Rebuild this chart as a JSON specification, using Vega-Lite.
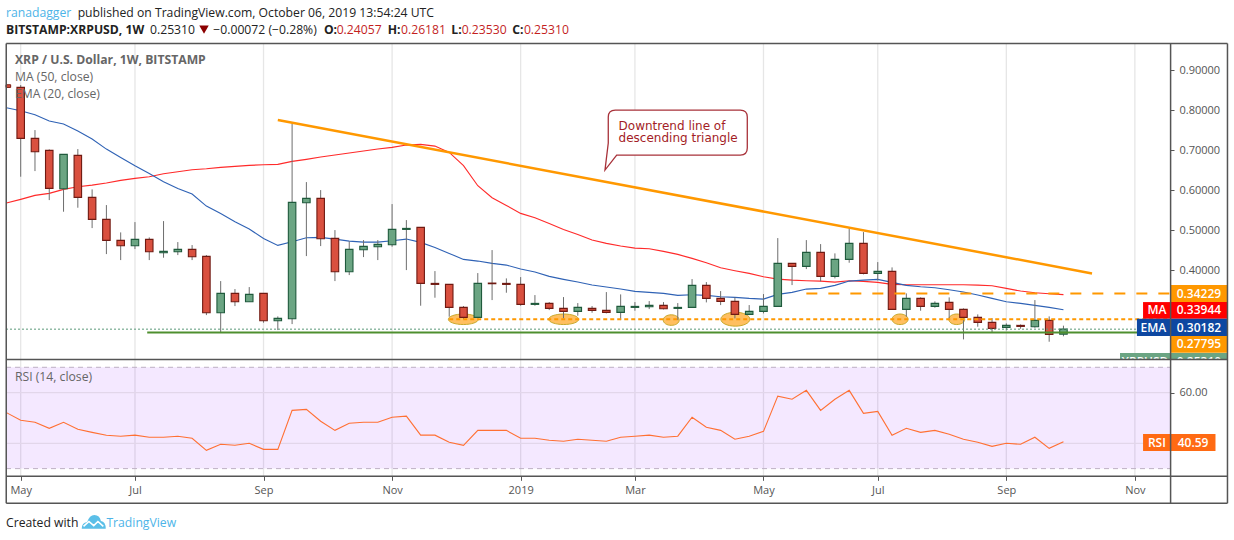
{
"$schema":"https://vega.github.io/schema/vega-lite/v6.json",
"width":1234,"height":540,"padding":0,"autosize":{"type":"none"},"background":"#ffffff",
"config":{"view":{"stroke":null},"text":{"font":"Open Sans"},"axis":{"labelFont":"Open Sans"}},
"datasets":{
"table":[
{"date":"2018-04-30","ma":0.5683,"ema":0.8067,"rsi":52.1},
{"date":"2018-05-07","open":0.8575,"close":0.73,"high":0.8633,"low":0.6342,"ma":0.5775,"ema":0.7992,"rsi":49.1},
{"date":"2018-05-14","open":0.73,"close":0.6967,"high":0.7508,"low":0.6483,"ma":0.5875,"ema":0.7892,"rsi":48.3},
{"date":"2018-05-21","open":0.7,"close":0.605,"high":0.7025,"low":0.5758,"ma":0.5925,"ema":0.7733,"rsi":45.9},
{"date":"2018-05-28","open":0.6042,"close":0.69,"high":0.69,"low":0.5467,"ma":0.6025,"ema":0.7658,"rsi":48.3},
{"date":"2018-06-04","open":0.6875,"close":0.5825,"high":0.7033,"low":0.5567,"ma":0.6092,"ema":0.7483,"rsi":45.5},
{"date":"2018-06-11","open":0.5825,"close":0.5275,"high":0.6025,"low":0.5058,"ma":0.6133,"ema":0.7283,"rsi":44.3},
{"date":"2018-06-18","open":0.5275,"close":0.475,"high":0.5633,"low":0.4408,"ma":0.6183,"ema":0.7033,"rsi":43.2},
{"date":"2018-06-25","open":0.475,"close":0.4617,"high":0.495,"low":0.4258,"ma":0.625,"ema":0.6825,"rsi":42.8},
{"date":"2018-07-02","open":0.4617,"close":0.4775,"high":0.5208,"low":0.4533,"ma":0.63,"ema":0.6617,"rsi":43.2},
{"date":"2018-07-09","open":0.4775,"close":0.4467,"high":0.4825,"low":0.4258,"ma":0.6342,"ema":0.6425,"rsi":42.4},
{"date":"2018-07-16","open":0.4442,"close":0.4475,"high":0.5233,"low":0.4317,"ma":0.6417,"ema":0.6217,"rsi":42.4},
{"date":"2018-07-23","open":0.4467,"close":0.4525,"high":0.4708,"low":0.4383,"ma":0.6467,"ema":0.605,"rsi":42.8},
{"date":"2018-07-30","open":0.4525,"close":0.4342,"high":0.4633,"low":0.4258,"ma":0.6517,"ema":0.5908,"rsi":42.0},
{"date":"2018-08-06","open":0.435,"close":0.2942,"high":0.4383,"low":0.2883,"ma":0.6542,"ema":0.5608,"rsi":37.2},
{"date":"2018-08-13","open":0.2942,"close":0.3425,"high":0.3733,"low":0.245,"ma":0.6575,"ema":0.5425,"rsi":39.6},
{"date":"2018-08-20","open":0.3425,"close":0.3217,"high":0.3533,"low":0.3108,"ma":0.66,"ema":0.5217,"rsi":39.2},
{"date":"2018-08-27","open":0.3217,"close":0.34,"high":0.3583,"low":0.3217,"ma":0.6625,"ema":0.5033,"rsi":40.0},
{"date":"2018-09-03","open":0.3425,"close":0.2742,"high":0.3425,"low":0.2692,"ma":0.6642,"ema":0.48,"rsi":37.6},
{"date":"2018-09-10","open":0.2742,"close":0.28,"high":0.285,"low":0.2508,"ma":0.665,"ema":0.4625,"rsi":37.6},
{"date":"2018-09-17","open":0.2792,"close":0.57,"high":0.7675,"low":0.2658,"ma":0.6725,"ema":0.4717,"rsi":53.0},
{"date":"2018-09-24","open":0.5692,"close":0.58,"high":0.6208,"low":0.4358,"ma":0.6775,"ema":0.4817,"rsi":53.4},
{"date":"2018-10-01","open":0.58,"close":0.4792,"high":0.6008,"low":0.4608,"ma":0.6833,"ema":0.4825,"rsi":48.7},
{"date":"2018-10-08","open":0.48,"close":0.3967,"high":0.5008,"low":0.3733,"ma":0.6883,"ema":0.4783,"rsi":45.1},
{"date":"2018-10-15","open":0.3967,"close":0.4525,"high":0.4725,"low":0.3883,"ma":0.6933,"ema":0.4733,"rsi":47.9},
{"date":"2018-10-22","open":0.4517,"close":0.46,"high":0.4758,"low":0.4333,"ma":0.6983,"ema":0.4708,"rsi":48.3},
{"date":"2018-10-29","open":0.4592,"close":0.465,"high":0.4758,"low":0.4258,"ma":0.7033,"ema":0.4708,"rsi":48.3},
{"date":"2018-11-05","open":0.4642,"close":0.5025,"high":0.5658,"low":0.4592,"ma":0.7075,"ema":0.4742,"rsi":50.3},
{"date":"2018-11-12","open":0.5025,"close":0.505,"high":0.5258,"low":0.4008,"ma":0.7133,"ema":0.4783,"rsi":50.7},
{"date":"2018-11-19","open":0.5075,"close":0.3675,"high":0.5075,"low":0.3117,"ma":0.715,"ema":0.47,"rsi":43.2},
{"date":"2018-11-26","open":0.3675,"close":0.365,"high":0.3983,"low":0.3317,"ma":0.7108,"ema":0.4575,"rsi":43.2},
{"date":"2018-12-03","open":0.365,"close":0.3075,"high":0.365,"low":0.2842,"ma":0.695,"ema":0.4425,"rsi":40.4},
{"date":"2018-12-10","open":0.3075,"close":0.2825,"high":0.3108,"low":0.2783,"ma":0.6617,"ema":0.4275,"rsi":39.2},
{"date":"2018-12-17","open":0.2825,"close":0.3675,"high":0.3933,"low":0.2825,"ma":0.6117,"ema":0.4233,"rsi":45.1},
{"date":"2018-12-24","open":0.3683,"close":0.3667,"high":0.4508,"low":0.3258,"ma":0.5817,"ema":0.4175,"rsi":45.1},
{"date":"2018-12-31","open":0.3675,"close":0.365,"high":0.38,"low":0.3442,"ma":0.5625,"ema":0.4133,"rsi":45.1},
{"date":"2019-01-07","open":0.365,"close":0.315,"high":0.3833,"low":0.3117,"ma":0.5425,"ema":0.4033,"rsi":42.0},
{"date":"2019-01-14","open":0.315,"close":0.3175,"high":0.3383,"low":0.3117,"ma":0.5317,"ema":0.3958,"rsi":42.0},
{"date":"2019-01-21","open":0.3175,"close":0.305,"high":0.3208,"low":0.3008,"ma":0.5175,"ema":0.385,"rsi":41.2},
{"date":"2019-01-28","open":0.305,"close":0.2975,"high":0.3333,"low":0.28,"ma":0.5025,"ema":0.3775,"rsi":40.8},
{"date":"2019-02-04","open":0.2975,"close":0.3075,"high":0.3183,"low":0.2867,"ma":0.49,"ema":0.3708,"rsi":41.6},
{"date":"2019-02-11","open":0.305,"close":0.3,"high":0.3108,"low":0.2942,"ma":0.4758,"ema":0.3633,"rsi":41.2},
{"date":"2019-02-18","open":0.3,"close":0.295,"high":0.3458,"low":0.2925,"ma":0.4675,"ema":0.3583,"rsi":40.8},
{"date":"2019-02-25","open":0.295,"close":0.31,"high":0.34,"low":0.2758,"ma":0.4608,"ema":0.3533,"rsi":42.4},
{"date":"2019-03-04","open":0.3075,"close":0.31,"high":0.3208,"low":0.2992,"ma":0.4558,"ema":0.3475,"rsi":42.8},
{"date":"2019-03-11","open":0.3092,"close":0.3125,"high":0.3233,"low":0.3033,"ma":0.4542,"ema":0.345,"rsi":43.2},
{"date":"2019-03-18","open":0.3125,"close":0.3042,"high":0.3208,"low":0.3025,"ma":0.4475,"ema":0.3425,"rsi":42.4},
{"date":"2019-03-25","open":0.305,"close":0.3075,"high":0.3183,"low":0.2758,"ma":0.44,"ema":0.3375,"rsi":42.8},
{"date":"2019-04-01","open":0.3075,"close":0.3625,"high":0.3783,"low":0.3075,"ma":0.43,"ema":0.3392,"rsi":50.3},
{"date":"2019-04-08","open":0.3625,"close":0.33,"high":0.3708,"low":0.32,"ma":0.4192,"ema":0.3375,"rsi":46.3},
{"date":"2019-04-15","open":0.33,"close":0.3225,"high":0.3483,"low":0.3133,"ma":0.4067,"ema":0.3342,"rsi":45.1},
{"date":"2019-04-22","open":0.3225,"close":0.29,"high":0.3325,"low":0.28,"ma":0.3992,"ema":0.3325,"rsi":41.6},
{"date":"2019-04-29","open":0.29,"close":0.2975,"high":0.3133,"low":0.2883,"ma":0.3925,"ema":0.33,"rsi":42.8},
{"date":"2019-05-06","open":0.2975,"close":0.31,"high":0.3408,"low":0.2925,"ma":0.3842,"ema":0.3283,"rsi":44.7},
{"date":"2019-05-13","open":0.31,"close":0.4175,"high":0.4808,"low":0.31,"ma":0.3783,"ema":0.34,"rsi":58.6},
{"date":"2019-05-20","open":0.4175,"close":0.41,"high":0.4175,"low":0.3633,"ma":0.3758,"ema":0.345,"rsi":57.4},
{"date":"2019-05-27","open":0.41,"close":0.445,"high":0.4758,"low":0.4033,"ma":0.3742,"ema":0.3533,"rsi":60.9},
{"date":"2019-06-03","open":0.445,"close":0.385,"high":0.4658,"low":0.3725,"ma":0.3733,"ema":0.355,"rsi":53.0},
{"date":"2019-06-10","open":0.385,"close":0.4275,"high":0.4425,"low":0.38,"ma":0.3708,"ema":0.3625,"rsi":57.4},
{"date":"2019-06-17","open":0.4275,"close":0.4675,"high":0.505,"low":0.4192,"ma":0.3742,"ema":0.3733,"rsi":60.9},
{"date":"2019-06-24","open":0.4675,"close":0.3925,"high":0.4958,"low":0.39,"ma":0.3725,"ema":0.3758,"rsi":51.8},
{"date":"2019-07-01","open":0.3925,"close":0.3975,"high":0.4208,"low":0.375,"ma":0.37,"ema":0.3775,"rsi":52.6},
{"date":"2019-07-08","open":0.3975,"close":0.3025,"high":0.4075,"low":0.3025,"ma":0.365,"ema":0.37,"rsi":43.2},
{"date":"2019-07-15","open":0.3025,"close":0.33,"high":0.3425,"low":0.2842,"ma":0.3642,"ema":0.3625,"rsi":45.9},
{"date":"2019-07-22","open":0.33,"close":0.31,"high":0.3325,"low":0.2992,"ma":0.3642,"ema":0.3592,"rsi":44.3},
{"date":"2019-07-29","open":0.31,"close":0.3175,"high":0.3225,"low":0.3067,"ma":0.3642,"ema":0.3567,"rsi":45.1},
{"date":"2019-08-05","open":0.32,"close":0.3025,"high":0.3325,"low":0.28,"ma":0.3642,"ema":0.3517,"rsi":43.6},
{"date":"2019-08-12","open":0.3025,"close":0.2825,"high":0.305,"low":0.2275,"ma":0.3642,"ema":0.3458,"rsi":41.6},
{"date":"2019-08-19","open":0.2825,"close":0.27,"high":0.29,"low":0.2592,"ma":0.3633,"ema":0.3383,"rsi":40.4},
{"date":"2019-08-26","open":0.27,"close":0.255,"high":0.2808,"low":0.245,"ma":0.3617,"ema":0.33,"rsi":38.8},
{"date":"2019-09-02","open":0.2575,"close":0.2625,"high":0.2675,"low":0.25,"ma":0.355,"ema":0.3217,"rsi":40.0},
{"date":"2019-09-09","open":0.2625,"close":0.26,"high":0.265,"low":0.2542,"ma":0.3483,"ema":0.3175,"rsi":39.6},
{"date":"2019-09-16","open":0.2592,"close":0.275,"high":0.3258,"low":0.2567,"ma":0.3442,"ema":0.3125,"rsi":42.4},
{"date":"2019-09-23","open":0.275,"close":0.24,"high":0.285,"low":0.2217,"ma":0.3417,"ema":0.3075,"rsi":38.0},
{"date":"2019-09-30","open":0.2406,"close":0.2531,"high":0.2618,"low":0.2353,"ma":0.3394,"ema":0.3018,"rsi":40.59}
],
"gridX":[{"date":"2018-05-07"},{"date":"2018-07-02"},{"date":"2018-09-03"},{"date":"2018-11-05"},{"date":"2019-01-07"},{"date":"2019-03-04"},{"date":"2019-05-06"},{"date":"2019-07-01"},{"date":"2019-09-02"},{"date":"2019-11-04"}],
"gridY":[0.2,0.3,0.4,0.5,0.6,0.7,0.8,0.9],
"tags":[
{"name":"Line 1","date":"2019-11-21T12:00:00Z","date2":"2019-12-19T07:00:00Z","top":0.3633,"bottom":0.3208},
{"name":"MA","date":"2019-11-21T12:00:00Z","date2":"2019-12-19T07:00:00Z","top":0.3208,"bottom":0.2792},
{"name":"EMA","date":"2019-11-21T12:00:00Z","date2":"2019-12-19T07:00:00Z","top":0.2792,"bottom":0.2358},
{"name":"Line 2","date":"2019-11-21T12:00:00Z","date2":"2019-12-19T07:00:00Z","top":0.2358,"bottom":0.1942},
{"name":"XRPUSD","date":"2019-11-21T12:00:00Z","date2":"2019-12-19T07:00:00Z","top":0.1933,"bottom":0.15},
{"name":"MA","date":"2019-11-08T00:00:00Z","date2":"2019-11-21T12:00:00Z","top":0.3208,"bottom":0.2792},
{"name":"EMA","date":"2019-11-05T00:00:00Z","date2":"2019-11-21T12:00:00Z","top":0.2792,"bottom":0.2358},
{"name":"XRPUSD","date":"2019-10-27T17:00:00Z","date2":"2019-11-21T12:00:00Z","top":0.1933,"bottom":0.15}
],
"tagText":[
{"label":"0.34229","date":"2019-12-05T09:00:00Z","price":0.3421},
{"label":"0.33944","date":"2019-12-05T09:00:00Z","price":0.3},
{"label":"0.30182","date":"2019-12-05T09:00:00Z","price":0.2571},
{"label":"0.27795","date":"2019-12-05T09:00:00Z","price":0.215},
{"label":"0.25310","date":"2019-12-05T09:00:00Z","price":0.1708},
{"label":"MA","date":"2019-11-14T19:00:00Z","price":0.3},
{"label":"EMA","date":"2019-11-13T02:00:00Z","price":0.2571},
{"label":"XRPUSD","date":"2019-11-08T22:00:00Z","price":0.1708}
],
"cover":[{"date":"2018-04-29T19:12:00Z","date2":"2019-12-19T09:00:00Z","top":0.1771,"bottom":-0.1825}],
"frame":[
{"date":"2018-04-29T22:00:00Z","date2":"2018-04-29T22:00:00Z","top":197.8,"bottom":16.3},
{"date":"2019-12-19T09:00:00Z","date2":"2019-12-19T09:00:00Z","top":197.8,"bottom":16.3},
{"date":"2019-11-21T12:00:00Z","date2":"2019-11-21T12:00:00Z","top":197.8,"bottom":16.3},
{"date":"2018-04-29T22:00:00Z","date2":"2019-12-19T09:00:00Z","top":197.8,"bottom":197.8},
{"date":"2018-04-29T22:00:00Z","date2":"2019-12-19T09:00:00Z","top":73.1,"bottom":73.1},
{"date":"2018-04-29T22:00:00Z","date2":"2019-12-19T09:00:00Z","top":27,"bottom":27},
{"date":"2018-04-29T22:00:00Z","date2":"2019-12-19T09:00:00Z","top":16.3,"bottom":16.3}
]
},
"encoding":{"x":{"field":"date","type":"temporal","title":null,
"scale":{"type":"utc","padding":0,"domain":[{"utc":true,"year":2018,"month":4,"date":29,"hours":19,"minutes":12},{"utc":true,"year":2019,"month":11,"date":21,"hours":5}],"range":[6,1170]},
"axis":{"orient":"bottom","offset":-63.7,"title":null,"grid":false,"domain":false,"zindex":1,"tickColor":"#555555","tickSize":4,"labelColor":"#555555","labelFont":"Open Sans","labelFontSize":11,"labelPadding":4,"labelOverlap":false,"labelFlush":false,
"values":[{"utc":true,"year":2018,"month":5,"date":7},{"utc":true,"year":2018,"month":7,"date":2},{"utc":true,"year":2018,"month":9,"date":3},{"utc":true,"year":2018,"month":11,"date":5},{"utc":true,"year":2019,"month":1,"date":7},{"utc":true,"year":2019,"month":3,"date":4},{"utc":true,"year":2019,"month":5,"date":6},{"utc":true,"year":2019,"month":7,"date":1},{"utc":true,"year":2019,"month":9,"date":2},{"utc":true,"year":2019,"month":11,"date":4}],
"labelExpr":"utcFormat(datum.value,'%b')=='Jan'?'2019':utcFormat(datum.value,'%b')"}}},
"layer":[
{"layer":[
{"data":{"name":"gridY"},"transform":[{"calculate":"datum.data","as":"price"}],"mark":{"type":"rule","color":"#e6e6e6","strokeWidth":1.3},
 "encoding":{"x":{"datum":{"utc":true,"year":2018,"month":4,"date":29,"hours":19,"minutes":12}},"x2":{"datum":{"utc":true,"year":2019,"month":11,"date":21,"hours":5}},
 "y":{"field":"price","type":"quantitative","scale":{"domain":[-0.2,1.1],"range":[510.4,-9.6]},"axis":{"orient":"right","offset":-64,"title":null,"grid":false,"domain":false,"zindex":1,"values":[0.4,0.5,0.6,0.7,0.8,0.9],"format":".5f","tickColor":"#555555","tickSize":4,"labelColor":"#555555","labelFont":"Open Sans","labelFontSize":11,"labelPadding":5}}}},
{"data":{"name":"gridX"},"mark":{"type":"rule","color":"#e6e6e6","strokeWidth":1.3},"encoding":{"y":{"datum":0.9671,"type":"quantitative","scale":{"domain":[-0.2,1.1],"range":[510.4,-9.6]}},"y2":{"datum":0.1771}}},
{"data":{"values":[{"date":"2018-12-09T22:00:00Z","price":0.2778},{"date":"2019-01-28T02:00:00Z","price":0.2778}]},"mark":{"type":"point","shape":"M-1,0A1,0.35,0,1,1,1,0A1,0.35,0,1,1,-1,0Z","size":900,"filled":false,"fill":"#ffbf60","fillOpacity":1,"stroke":"#c9a92c","strokeWidth":1,"opacity":1},"encoding":{"y":{"field":"price","type":"quantitative","scale":{"domain":[-0.2,1.1],"range":[510.4,-9.6]}}}},
{"data":{"values":[{"date":"2019-04-22T05:00:00Z","price":0.278}]},"mark":{"type":"point","shape":"M-1,0A1,0.48,0,1,1,1,0A1,0.48,0,1,1,-1,0Z","size":841,"filled":false,"fill":"#ffbf60","fillOpacity":1,"stroke":"#c9a92c","strokeWidth":1,"opacity":1},"encoding":{"y":{"field":"price","type":"quantitative","scale":{"domain":[-0.2,1.1],"range":[510.4,-9.6]}}}},
{"data":{"values":[{"date":"2019-03-21T19:00:00Z","price":0.2758},{"date":"2019-07-11T22:00:00Z","price":0.2778},{"date":"2019-08-08T17:00:00Z","price":0.2778}]},"mark":{"type":"point","shape":"M-1,0A1,0.66,0,1,1,1,0A1,0.66,0,1,1,-1,0Z","size":256,"filled":false,"fill":"#ffbf60","fillOpacity":1,"stroke":"#c9a92c","strokeWidth":1,"opacity":1},"encoding":{"y":{"field":"price","type":"quantitative","scale":{"domain":[-0.2,1.1],"range":[510.4,-9.6]}}}},
{"data":{"name":"table"},"mark":{"type":"line","color":"#ff2a2a","strokeWidth":1.1},"encoding":{"y":{"field":"ma","type":"quantitative","scale":{"domain":[-0.2,1.1],"range":[510.4,-9.6]}}}},
{"data":{"name":"table"},"mark":{"type":"line","color":"#2f62b5","strokeWidth":1.1},"encoding":{"y":{"field":"ema","type":"quantitative","scale":{"domain":[-0.2,1.1],"range":[510.4,-9.6]}}}},
{"data":{"name":"table"},"mark":{"type":"rule","color":"#6e6e6e","strokeWidth":1},"encoding":{"y":{"field":"high","type":"quantitative","scale":{"domain":[-0.2,1.1],"range":[510.4,-9.6]}},"y2":{"field":"low"}}},
{"data":{"values":[{"date":"2018-04-29T19:12:00Z","date2":"2018-05-02T02:00:00Z","top":0.8641,"bottom":0.8575}]},"mark":{"type":"rect","fill":"#d9503f","stroke":"#7a1c12","strokeWidth":1},"encoding":{"x2":{"field":"date2"},"y":{"field":"top","type":"quantitative","scale":{"domain":[-0.2,1.1],"range":[510.4,-9.6]}},"y2":{"field":"bottom"}}},
{"data":{"name":"table"},"mark":{"type":"bar","size":7.5,"strokeWidth":1.1},"encoding":{"y":{"field":"open","type":"quantitative","scale":{"domain":[-0.2,1.1],"range":[510.4,-9.6]}},"y2":{"field":"close"},
 "fill":{"condition":{"test":"datum.close<datum.open","value":"#d9503f"},"value":"#6ba583"},
 "stroke":{"condition":{"test":"datum.close<datum.open","value":"#6f1a12"},"value":"#1f5a3c"}}},
{"data":{"values":[{"date":"2018-07-08","date2":"2019-11-21T05:00:00Z","price":0.245}]},"mark":{"type":"rule","color":"#4f8f2f","strokeWidth":2},"encoding":{"x2":{"field":"date2"},"y":{"field":"price","type":"quantitative","scale":{"domain":[-0.2,1.1],"range":[510.4,-9.6]}}}},
{"data":{"values":[{"date":"2018-04-29T19:12:00Z","date2":"2019-11-21T05:00:00Z","price":0.2531}]},"mark":{"type":"rule","color":"#5c9a7a","strokeWidth":1,"strokeDash":[2,2]},"encoding":{"x2":{"field":"date2"},"y":{"field":"price","type":"quantitative","scale":{"domain":[-0.2,1.1],"range":[510.4,-9.6]}}}},
{"data":{"values":[{"date":"2018-12-03","date2":"2019-11-21T05:00:00Z","price":0.27795}]},"mark":{"type":"rule","color":"#ff9800","strokeWidth":2,"strokeDash":[4,3]},"encoding":{"x2":{"field":"date2"},"y":{"field":"price","type":"quantitative","scale":{"domain":[-0.2,1.1],"range":[510.4,-9.6]}}}},
{"data":{"values":[{"date":"2019-05-27","date2":"2019-11-21T05:00:00Z","price":0.34229}]},"mark":{"type":"rule","color":"#ff9800","strokeWidth":2,"strokeDash":[11,11]},"encoding":{"x2":{"field":"date2"},"y":{"field":"price","type":"quantitative","scale":{"domain":[-0.2,1.1],"range":[510.4,-9.6]}}}},
{"data":{"values":[{"date":"2018-09-10","price":0.7758},{"date":"2019-10-14","price":0.3925}]},"mark":{"type":"line","color":"#ff9800","strokeWidth":2.5},"encoding":{"y":{"field":"price","type":"quantitative","scale":{"domain":[-0.2,1.1],"range":[510.4,-9.6]}}}},
{"data":{"values":[{"date":"2019-03-25","price":0.7446}]},"mark":{"type":"point","shape":"M-0.893,-0.321L0.893,-0.321Q0.993,-0.321,0.993,-0.221L0.993,0.221Q0.993,0.321,0.893,0.321L-0.873,0.321L-1.04,0.536L-0.993,0.15L-0.993,-0.221Q-0.993,-0.321,-0.893,-0.321Z","size":19600,"filled":false,"fill":"#ffffff","fillOpacity":1,"stroke":"#a8323a","strokeWidth":1.3,"opacity":1},"encoding":{"y":{"field":"price","type":"quantitative","scale":{"domain":[-0.2,1.1],"range":[510.4,-9.6]}}}},
{"data":{"values":[{"label":"Downtrend line of","date":"2019-02-24","price":0.7617},{"label":"descending triangle","date":"2019-02-24","price":0.7317}]},"mark":{"type":"text","align":"left","baseline":"middle","font":"DejaVu Sans","fontSize":12,"color":"#a31d26"},"encoding":{"text":{"field":"label"},"y":{"field":"price","type":"quantitative","scale":{"domain":[-0.2,1.1],"range":[510.4,-9.6]}}}},
{"data":{"values":[{"label":"XRP / U.S. Dollar, 1W, BITSTAMP","date":"2018-05-04T05:00:00Z","price":0.9258}]},"mark":{"type":"text","align":"left","baseline":"middle","fontSize":12.2,"fontWeight":"bold","color":"#666666"},"encoding":{"text":{"field":"label"},"y":{"field":"price","type":"quantitative","scale":{"domain":[-0.2,1.1],"range":[510.4,-9.6]}}}},
{"data":{"values":[{"label":"MA (50, close)","date":"2018-05-04T05:00:00Z","price":0.8833},{"label":"EMA (20, close)","date":"2018-05-04T05:00:00Z","price":0.8408}]},"mark":{"type":"text","align":"left","baseline":"middle","fontSize":12.2,"color":"#666666"},"encoding":{"text":{"field":"label"},"y":{"field":"price","type":"quantitative","scale":{"domain":[-0.2,1.1],"range":[510.4,-9.6]}}}},
{"data":{"values":[{"label":"ranadagger","date":"2018-04-29T19:12:00Z","price":1.0446},{"label":"TradingView","date":"2018-06-18","price":-0.2309}]},"mark":{"type":"text","align":"left","baseline":"middle","fontSize":12.2,"color":"#4db4e8"},"encoding":{"text":{"field":"label"},"y":{"field":"price","type":"quantitative","scale":{"domain":[-0.2,1.1],"range":[510.4,-9.6]}}}},
{"data":{"values":[{"label":"published on TradingView.com, October 06, 2019 13:54:24 UTC","date":"2018-06-03T22:00:00Z","price":1.0446},{"label":"0.25310","date":"2018-07-09T08:38:00Z","price":1.0021},{"label":"−0.00072 (−0.28%)","date":"2018-08-09T09:00:00Z","price":1.0021},{"label":"Created with","date":"2018-04-29T19:12:00Z","price":-0.2309}]},"mark":{"type":"text","align":"left","baseline":"middle","fontSize":12.2,"color":"#222222"},"encoding":{"text":{"field":"label"},"y":{"field":"price","type":"quantitative","scale":{"domain":[-0.2,1.1],"range":[510.4,-9.6]}}}},
{"data":{"values":[{"label":"BITSTAMP:XRPUSD, 1W","date":"2018-04-29T19:12:00Z","price":1.0021},{"label":"O:","date":"2018-10-02T14:00:00Z","price":1.0021},{"label":"H:","date":"2018-11-02T20:00:00Z","price":1.0021},{"label":"L:","date":"2018-12-04T00:00:00Z","price":1.0021},{"label":"C:","date":"2019-01-02T22:00:00Z","price":1.0021}]},"mark":{"type":"text","align":"left","baseline":"middle","fontSize":12.2,"fontWeight":"bold","color":"#222222"},"encoding":{"text":{"field":"label"},"y":{"field":"price","type":"quantitative","scale":{"domain":[-0.2,1.1],"range":[510.4,-9.6]}}}},
{"data":{"values":[{"label":"0.24057","date":"2018-10-08T20:00:00Z","price":1.0021},{"label":"0.26181","date":"2018-11-09T09:00:00Z","price":1.0021},{"label":"0.23530","date":"2018-12-09T02:00:00Z","price":1.0021},{"label":"0.25310","date":"2019-01-08T14:00:00Z","price":1.0021}]},"mark":{"type":"text","align":"left","baseline":"middle","fontSize":12.2,"color":"#c41f1f"},"encoding":{"text":{"field":"label"},"y":{"field":"price","type":"quantitative","scale":{"domain":[-0.2,1.1],"range":[510.4,-9.6]}}}},
{"data":{"values":[{"date":"2018-08-04T20:00:00Z","price":1.0021}]},"mark":{"type":"point","shape":"triangle-down","filled":true,"size":90,"color":"#8b0000","opacity":1},"encoding":{"y":{"field":"price","type":"quantitative","scale":{"domain":[-0.2,1.1],"range":[510.4,-9.6]}}}},
{"data":{"values":[{"date":"2018-06-11T19:00:00Z","price":-0.2292}]},"mark":{"type":"point","shape":"M-1,0.55Q-1,0.05,-0.55,0Q-0.35,-0.6,0.05,-0.6Q0.5,-0.6,0.6,-0.1Q1,-0.05,1,0.55Z","size":576,"filled":true,"color":"#5bbfe8","opacity":1},"encoding":{"y":{"field":"price","type":"quantitative","scale":{"domain":[-0.2,1.1],"range":[510.4,-9.6]}}}},
{"data":{"values":[{"date":"2018-06-11T19:00:00Z","price":-0.2292}]},"mark":{"type":"point","shape":"M-0.85,0.35L-0.4,-0.05L0,0.3L0.35,-0.05L0.8,0.35","size":576,"filled":false,"stroke":"#ffffff","strokeWidth":1.6,"opacity":1},"encoding":{"y":{"field":"price","type":"quantitative","scale":{"domain":[-0.2,1.1],"range":[510.4,-9.6]}}}},
{"data":{"name":"tags"},"mark":{"type":"rect"},"encoding":{"x2":{"field":"date2"},"y":{"field":"top","type":"quantitative","scale":{"domain":[-0.2,1.1],"range":[510.4,-9.6]}},"y2":{"field":"bottom"},
 "fill":{"field":"name","type":"nominal","legend":null,"scale":{"domain":["Line 1","MA","EMA","Line 2","XRPUSD"],"range":["#ff9800","#ff0000","#0d47a1","#ff9800","#6ba583"]}}}},
{"data":{"name":"tagText"},"mark":{"type":"text","align":"center","baseline":"middle","fontSize":12,"fontWeight":600,"color":"#ffffff"},"encoding":{"text":{"field":"label"},"y":{"field":"price","type":"quantitative","scale":{"domain":[-0.2,1.1],"range":[510.4,-9.6]}}}},
{"data":{"name":"cover"},"mark":{"type":"rect","fill":"#ffffff"},"encoding":{"x2":{"field":"date2"},"y":{"field":"top","type":"quantitative","scale":{"domain":[-0.2,1.1],"range":[510.4,-9.6]}},"y2":{"field":"bottom"}}}
]},
{"layer":[
{"data":{"name":"gridX"},"mark":{"type":"rule","color":"#e6e6e6","strokeWidth":1.3},"encoding":{"y":{"datum":72.9,"type":"quantitative","scale":{"domain":[0,100],"range":[544.6,291.3]},"axis":{"orient":"right","offset":-64,"title":null,"grid":false,"domain":false,"zindex":1,"values":[60],"format":".2f","tickColor":"#555555","tickSize":4,"labelColor":"#555555","labelFont":"Open Sans","labelFontSize":11,"labelPadding":5}},"y2":{"datum":27}}},
{"data":{"values":[{"date":"2018-04-29T19:12:00Z","date2":"2019-11-21T05:00:00Z","top":70,"bottom":30}]},"mark":{"type":"rect","fill":"#9b30ff","opacity":0.11},"encoding":{"x2":{"field":"date2"},"y":{"field":"top","type":"quantitative","scale":{"domain":[0,100],"range":[544.6,291.3]}},"y2":{"field":"bottom"}}},
{"data":{"values":[{"date":"2018-04-29T19:12:00Z","date2":"2019-11-21T05:00:00Z","rsi":60},{"date":"2018-04-29T19:12:00Z","date2":"2019-11-21T05:00:00Z","rsi":40}]},"mark":{"type":"rule","color":"#e2d6ea","strokeWidth":1.3},"encoding":{"x2":{"field":"date2"},"y":{"field":"rsi","type":"quantitative","scale":{"domain":[0,100],"range":[544.6,291.3]}}}},
{"data":{"values":[{"date":"2018-04-29T19:12:00Z","date2":"2019-11-21T05:00:00Z","rsi":70},{"date":"2018-04-29T19:12:00Z","date2":"2019-11-21T05:00:00Z","rsi":30}]},"mark":{"type":"rule","color":"#bdb0c4","strokeWidth":1,"strokeDash":[5,4]},"encoding":{"x2":{"field":"date2"},"y":{"field":"rsi","type":"quantitative","scale":{"domain":[0,100],"range":[544.6,291.3]}}}},
{"data":{"name":"table"},"mark":{"type":"line","color":"#ff7033","strokeWidth":1.1},"encoding":{"y":{"field":"rsi","type":"quantitative","scale":{"domain":[0,100],"range":[544.6,291.3]}}}},
{"data":{"values":[{"date":"2019-11-08T00:00:00Z","date2":"2019-11-21T12:00:00Z","top":43.67,"bottom":36.96},{"date":"2019-11-21T12:00:00Z","date2":"2019-12-13T12:00:00Z","top":43.67,"bottom":36.96}]},"mark":{"type":"rect","fill":"#ff6a13"},"encoding":{"x2":{"field":"date2"},"y":{"field":"top","type":"quantitative","scale":{"domain":[0,100],"range":[544.6,291.3]}},"y2":{"field":"bottom"}}},
{"data":{"values":[{"label":"RSI","date":"2019-11-14T19:00:00Z","rsi":40.3},{"label":"40.59","date":"2019-12-02T12:00:00Z","rsi":40.3}]},"mark":{"type":"text","align":"center","baseline":"middle","fontSize":12,"fontWeight":600,"color":"#ffffff"},"encoding":{"text":{"field":"label"},"y":{"field":"rsi","type":"quantitative","scale":{"domain":[0,100],"range":[544.6,291.3]}}}},
{"data":{"values":[{"label":"RSI (14, close)","date":"2018-05-04T05:00:00Z","rsi":66.2}]},"mark":{"type":"text","align":"left","baseline":"middle","fontSize":12.2,"color":"#666666"},"encoding":{"text":{"field":"label"},"y":{"field":"rsi","type":"quantitative","scale":{"domain":[0,100],"range":[544.6,291.3]}}}},
{"data":{"name":"frame"},"mark":{"type":"rule","color":"#555555","strokeWidth":1.5},"encoding":{"x2":{"field":"date2"},"y":{"field":"top","type":"quantitative","scale":{"domain":[0,100],"range":[544.6,291.3]}},"y2":{"field":"bottom"}}}
]}
],
"resolve":{"scale":{"y":"independent"},"axis":{"y":"independent"}}
}
